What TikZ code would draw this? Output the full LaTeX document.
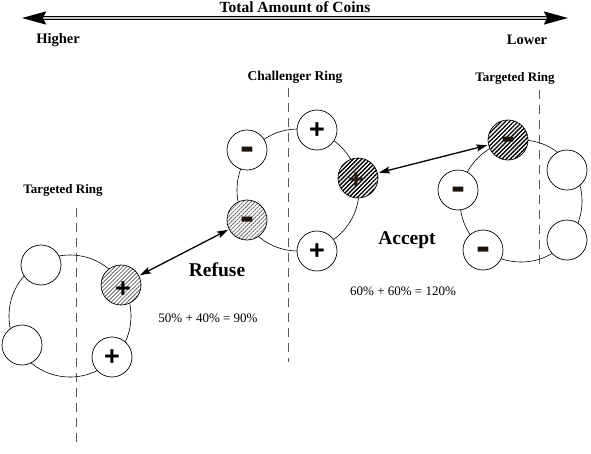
\documentclass[tikz,border=0pt]{standalone}
\usepackage{fontspec}
\setmainfont{Liberation Serif}
\newfontfamily\signfont{Liberation Sans}
\usetikzlibrary{arrows.meta,patterns.meta}
\begin{document}
\begin{tikzpicture}[x=1pt,y=-1pt,
  ring/.style={circle,draw,line width=0.6pt,fill=white,minimum size=122pt,inner sep=0pt},
  coin/.style={circle,draw,line width=0.7pt,fill=white,minimum size=40pt,inner sep=0pt},
  lighthatch/.style={coin,pattern={Lines[angle=45,distance=2.8pt,line width=0.8pt]},pattern color=gray!80!black,preaction={fill=white}},
  darkhatch/.style={coin,pattern={Lines[angle=45,distance=3pt,line width=1.3pt]},pattern color=black,preaction={fill=white}},
  plus/.style={font=\signfont\bfseries\fontsize{27}{27}\selectfont,inner sep=0pt,yshift=-1pt},
  minus/.style={font=\signfont\bfseries\fontsize{42}{42}\selectfont,inner sep=0pt,yshift=-3.6pt,text=black!85!brown},
  divider/.style={draw,line width=0.6pt,dash pattern=on 9pt off 6pt,gray!70!black},
  caption/.style={font=\fontsize{13}{14}\selectfont\bfseries},
  link/.style={line width=1.3pt,{Stealth[length=11pt,width=7pt,inset=2pt]}-{Stealth[length=11pt,width=7pt,inset=2pt]},shorten <=1pt,shorten >=1pt}]
\useasboundingbox (0,0) rectangle (591,453);

% top scale
\coordinate (sl) at (22,18);
\coordinate (sr) at (568,18);
\draw[line width=1.7pt,double=gray!45,double distance=1.2pt,{Stealth[length=24pt,width=13pt,inset=3pt]}-{Stealth[length=24pt,width=13pt,inset=3pt]}] (sl) -- (sr);
\node[font=\fontsize{15.5}{16}\selectfont\bfseries] (title) at (295,7) {Total Amount of Coins};
\node[font=\fontsize{14.5}{15}\selectfont\bfseries] (higher) at (58,40) {Higher};
\node[font=\fontsize{14.5}{15}\selectfont\bfseries] (lower) at (527,40) {Lower};

% rings
\node[ring] (lring) at (70,316) {};
\node[ring] (cring) at (298,190) {};
\node[ring] (rring) at (521,201) {};

% dividers
\coordinate (ld1) at (76,208); \coordinate (ld2) at (76,445);
\coordinate (cd1) at (288,88); \coordinate (cd2) at (288,362);
\coordinate (rd1) at (539,90); \coordinate (rd2) at (539,268);
\draw[divider] (ld1) -- (ld2);
\draw[divider] (cd1) -- (cd2);
\draw[divider] (rd1) -- (rd2);

\node[caption] (lcap) at (63,190) {Targeted Ring};
\node[caption,font=\fontsize{13.5}{14}\selectfont\bfseries] (ccap) at (295,77) {Challenger Ring};
\node[caption] (rcap) at (515,78) {Targeted Ring};

% left targeted ring coins
\node[coin] (l1) at (41,265) {};
\node[coin] (l2) at (22,345) {};
\node[lighthatch] (lh) at (121,285) {};
\node[coin] (l4) at (112,357) {};
\node[plus,xshift=2pt,yshift=-4pt] at (lh) {+};
\node[plus] at (l4) {+};

% challenger ring coins
\node[coin] (c1) at (247,150) {};
\node[coin] (c2) at (317,130) {};
\node[darkhatch] (ch) at (358,178) {};
\node[lighthatch] (cm) at (247,220) {};
\node[coin] (c5) at (317,251) {};
\node[minus] at (c1) {-};
\node[plus] at (c2) {+};
\node[plus,xshift=-2pt,yshift=-2pt,text=black!80!brown] at (ch) {+};
\node[minus] at (cm) {-};
\node[plus] at (c5) {+};

% right targeted ring coins
\node[darkhatch] (rh) at (508,140) {};
\node[coin] (r2) at (458,190) {};
\node[coin] (r3) at (483,250) {};
\node[coin] (r4) at (567,170) {};
\node[coin] (r5) at (567,240) {};
\node[minus] at (rh) {-};
\node[minus] at (r2) {-};
\node[minus] at (r3) {-};

% exchanges
\draw[link] (lh) -- (cm);
\draw[link] (ch) -- (rh);

\node[font=\fontsize{19.5}{20}\selectfont\bfseries] (refuse) at (217,270) {Refuse};
\node[font=\fontsize{13}{14}\selectfont] (eq1) at (208,318) {50\% + 40\% = 90\%};
\node[font=\fontsize{19.5}{20}\selectfont\bfseries] (accept) at (407,240) {Accept};
\node[font=\fontsize{13}{14}\selectfont] (eq2) at (403,291) {60\% + 60\% = 120\%};
\end{tikzpicture}
\end{document}
